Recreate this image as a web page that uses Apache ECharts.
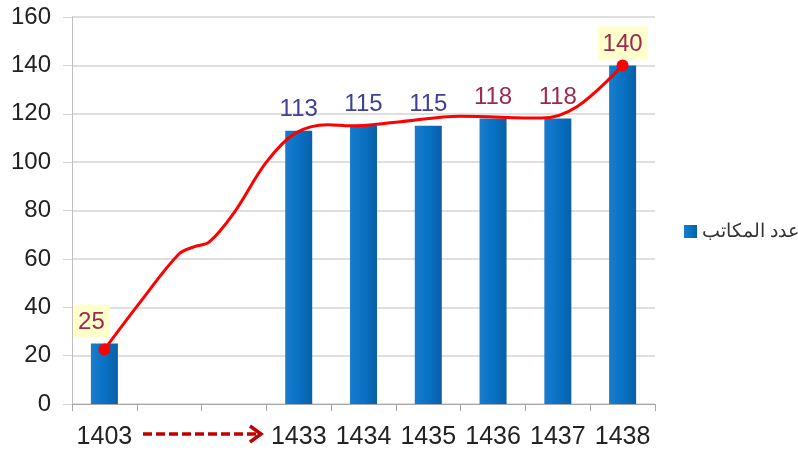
<!DOCTYPE html>
<html>
<head>
<meta charset="utf-8">
<script src="https://cdn.jsdelivr.net/npm/echarts@6/dist/echarts.min.js"></script>
<style>
  html, body { margin: 0; padding: 0; background: #fff; }
  #chart { width: 798px; height: 454px; }
</style>
</head>
<body>
<div id="chart"></div>
<script>
// years on the axis (two empty slots between 1403 and 1433)
const years = ['1403', '', '', '1433', '1434', '1435', '1436', '1437', '1438']
// number of offices
const offices = [25, null, null, 113, 115, 115, 118, 118, 140]
const seriesName = 'عدد المكاتب'

// red trend curve (x in category units, 0.5 = centre of first slot)
const trendX = [0.5, 1.05, 1.65, 1.88, 2.12, 2.5, 3.0, 3.45, 3.95, 4.3, 5.0, 6.0, 7.25, 7.8, 8.5]
const trendY = [22.5, 42, 62, 65, 67, 79, 100, 112, 115.5, 115, 116.5, 119, 118.2, 123, 140]

const chart = echarts.init(document.getElementById('chart'))

const maroon = '#9b2a4e'
const navy = '#3f3f95'

const barData = offices.map((v, i) => {
  if (v === null) return '-'
  const first = i === 0
  const last = i === offices.length - 1
  return {
    value: v,
    label: {
      color: v >= 118 || first ? maroon : navy,
      backgroundColor: first || last ? '#ffffcc' : 'transparent',
      padding: first || last ? [6, 5, 3, 5] : 0,
      offset: first ? [-13, 0] : [0, 0],
      distance: first || last ? 6 : 9
    }
  }
})

const trendData = trendX.map((x, i) => {
  const edge = i === 0 || i === trendX.length - 1
  return edge
    ? { value: [x, trendY[i]], symbol: 'circle', symbolSize: 12 }
    : { value: [x, trendY[i]], symbol: 'none' }
})

const option = {
  textStyle: { fontFamily: 'Liberation Sans, Arial, sans-serif' },
  animation: false,
  grid: { left: 72, right: 143, top: 17, bottom: 50 },
  legend: {
    left: 679,
    top: 217,
    itemWidth: 13,
    itemHeight: 13,
    itemGap: 4,
    icon: 'rect',
    textStyle: { fontSize: 19, color: '#333' },
    data: [seriesName]
  },
  xAxis: [
    {
      type: 'category',
      data: years,
      axisLine: { lineStyle: { color: '#a6a6a6' } },
      axisTick: { show: true, length: 7, lineStyle: { color: '#a6a6a6' } },
      axisLabel: { fontSize: 25, color: '#222', margin: 21, interval: 0 }
    },
    {
      type: 'value',
      min: 0,
      max: 9,
      show: false
    }
  ],
  yAxis: {
    type: 'value',
    min: 0,
    max: 160,
    interval: 20,
    axisLine: { show: true, lineStyle: { color: '#bfbfbf' } },
    axisTick: { show: true, inside: false, length: 9, lineStyle: { color: '#d4d4d4' } },
    splitLine: { lineStyle: { color: '#d4d4d4', width: 1.5 } },
    axisLabel: { fontSize: 24, color: '#222', margin: 21 }
  },
  series: [
    {
      name: seriesName,
      type: 'bar',
      data: barData,
      barWidth: 27,
      itemStyle: {
        color: new echarts.graphic.LinearGradient(0, 0, 1, 0, [
          { offset: 0, color: '#1a7ccc' },
          { offset: 0.5, color: '#0872c4' },
          { offset: 1, color: '#0860a8' }
        ])
      },
      label: {
        show: true,
        position: 'top',
        fontSize: 24
      }
    },
    {
      name: 'trend',
      type: 'line',
      xAxisIndex: 1,
      data: trendData,
      smooth: 0.35,
      showSymbol: true,
      lineStyle: { color: '#ff0000', width: 3 },
      itemStyle: { color: '#ff0000' },
      z: 5
    }
  ],
  graphic: [
    {
      type: 'line',
      shape: { x1: 143, y1: 434, x2: 256, y2: 434 },
      style: { stroke: '#c00000', lineWidth: 3.5, lineDash: [9, 4] }
    },
    {
      type: 'polyline',
      shape: { points: [[250, 426], [261, 434], [250, 442]] },
      style: { stroke: '#c00000', lineWidth: 3.5, fill: null }
    }
  ]
}

chart.setOption(option)
</script>
</body>
</html>
